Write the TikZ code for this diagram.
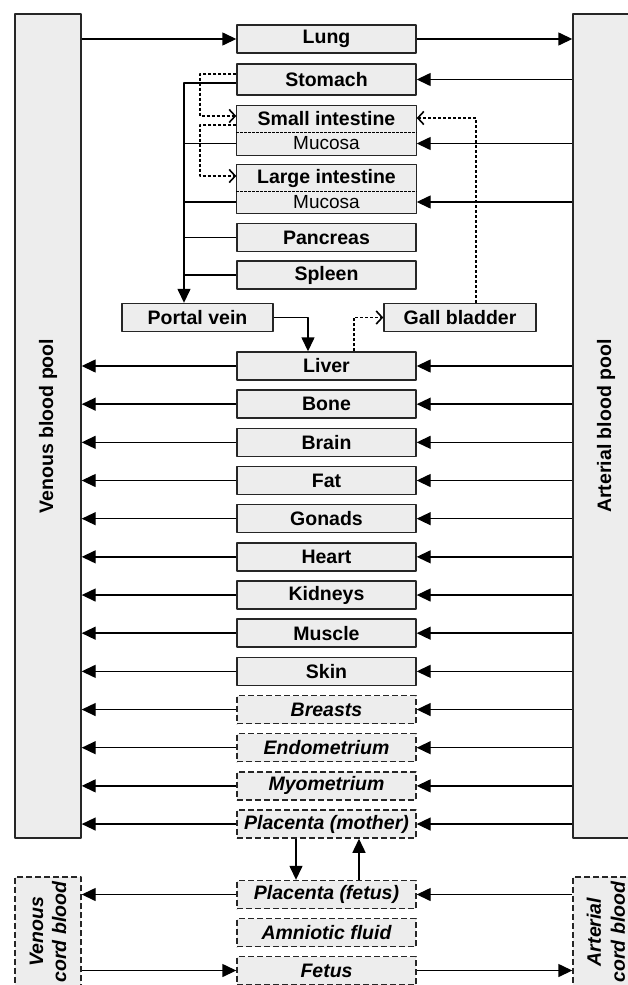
\documentclass[tikz,border=0pt]{standalone}
\usepackage{fontspec}
\setmainfont{Liberation Sans}
\usetikzlibrary{arrows.meta}
\begin{document}
\begin{tikzpicture}[x=1pt,y=-1pt, line join=round, font=\fontsize{19.5}{22}\selectfont\bfseries,
	organ/.style={draw=black!85, fill=black!7, line width=1.4pt, minimum width=179pt, minimum height=28pt, inner sep=0pt},
	dorgan/.style={organ, dash pattern=on 6pt off 3pt, font=\fontsize{19.5}{22}\selectfont\bfseries\itshape},
	pool/.style={draw=black!85, fill=black!7, line width=1.4pt, minimum width=66pt, inner sep=0pt},
	flow/.style={line width=1.4pt, -{Triangle[length=14pt,width=13pt]}},
	dflow/.style={line width=1.4pt, dash pattern=on 3pt off 2pt, -{Straight Barb[length=6pt,width=13pt,line width=1.6pt]}},
	link/.style={line width=1.4pt}]
	\def\cx{326.5} \def\ytop{366} \def\dy{38.17}
	\useasboundingbox (0,0) rectangle (628,985);

	% [Blood pools]
	\node[pool, minimum height=824pt] (venous) at (48,426) {};
	\node[rotate=90] (venouslbl) at (venous) {Venous blood pool};
	\node[pool, minimum height=824pt] (arterial) at (606,426) {};
	\node[rotate=90] (arteriallbl) at (arterial) {Arterial blood pool};
	\node[pool, dash pattern=on 6pt off 3pt, minimum height=110pt] (vcord) at (48,932) {};
	\node[rotate=90, align=center, font=\fontsize{19.5}{23}\selectfont\bfseries\itshape] (vcordlbl) at (vcord) {Venous\\cord blood};
	\node[pool, dash pattern=on 6pt off 3pt, minimum height=110pt] (acord) at (606,932) {};
	\node[rotate=90, align=center, font=\fontsize{19.5}{24}\selectfont\bfseries\itshape] (acordlbl) at (acord) {Arterial\\cord blood};

	% [Lung and portal organs]
	\node[organ] (lung) at (\cx,39) {Lung};
	\node[organ, minimum height=31pt] (stomach) at (\cx,79.5) {Stomach};
	\node[organ, draw=none, minimum height=26pt] (siU) at (\cx,119) {Small intestine};
	\node[organ, draw=none, minimum height=23pt, font=\fontsize{19}{21}\selectfont\mdseries] (siM) at (\cx,143.5) {Mucosa};
	\draw[line width=1.4pt, draw=black!85] (siU.north west) rectangle (siM.south east);
	\draw[line width=1pt, dash pattern=on 2.5pt off 1.5pt] (siU.south west) -- (siU.south east);
	\node[organ, draw=none, minimum height=26pt] (liU) at (\cx,178) {Large intestine};
	\node[organ, draw=none, minimum height=22pt, font=\fontsize{19}{21}\selectfont\mdseries] (liM) at (\cx,202) {Mucosa};
	\draw[line width=1.4pt, draw=black!85] (liU.north west) rectangle (liM.south east);
	\draw[line width=1pt, dash pattern=on 2.5pt off 1.5pt] (liU.south west) -- (liU.south east);
	\node[organ] (pancreas) at (\cx,237.5) {Pancreas};
	\node[organ] (spleen) at (\cx,275) {Spleen};
	\node[organ, minimum width=151pt] (portal) at (197.5,317.5) {Portal vein};
	\node[organ, minimum width=152pt] (gall) at (460,317.5) {Gall bladder};

	% [Other organs]
	\foreach \name/\txt [count=\i from 0] in {liver/Liver, bone/Bone, brain/Brain, fat/Fat, gonads/Gonads, heart/Heart, kidneys/Kidneys, muscle/Muscle, skin/Skin}
		\node[organ] (\name) at (\cx,\ytop+\dy*\i) {\txt};
	\foreach \name/\txt [count=\i from 9] in {breasts/Breasts, endometrium/Endometrium, myometrium/Myometrium, placM/Placenta (mother)}
		\node[dorgan] (\name) at (\cx,\ytop+\dy*\i) {\txt};
	\node[dorgan] (placF) at (\cx,894.5) {Placenta (fetus)};
	\node[dorgan] (amnio) at (\cx,932.5) {Amniotic fluid};
	\node[dorgan] (fetus) at (\cx,970.5) {Fetus};

	% [Flows to and from the pools]
	\draw[flow] (lung.west -| venous.east) -- (lung.west);
	\draw[flow] (lung.east) -- (lung.east -| arterial.west);
	\foreach \name in {stomach, siM, liM}
		\draw[flow] (\name.east -| arterial.west) -- (\name.east);
	\foreach \name in {liver, bone, brain, fat, gonads, heart, kidneys, muscle, skin, breasts, endometrium, myometrium, placM} {
		\draw[flow] (\name.east -| arterial.west) -- (\name.east);
		\draw[flow] (\name.west) -- (\name.west -| venous.east);
	}

	% [Portal circulation]
	\coordinate (bus) at (184,0);
	\coordinate (dbus) at (200,0);
	\coordinate (pl) at (308,0);
	\coordinate (lg) at (354,0);
	\coordinate (gs) at (476,0);
	\draw[flow] ([yshift=-3.5pt]stomach.west) -| (bus |- portal.north);
	\foreach \name in {siM, liM, pancreas, spleen}
		\draw[link] (\name.west) -- (\name.west -| bus);
	\draw[dflow] ([yshift=5.5pt]stomach.west) -| ([yshift=3pt]siU.west -| dbus) -- ([yshift=3pt]siU.west);
	\draw[dflow] ([yshift=-6pt]siU.west) -| ([yshift=2pt]liU.west -| dbus) -- ([yshift=2pt]liU.west);
	\draw[flow] (portal.east) -| (pl |- liver.north);
	\draw[dflow] (lg |- liver.north) |- (gall.west);
	\draw[dflow] (gs |- gall.north) |- ([yshift=1pt]siU.east);

	% [Placenta and fetus]
	\coordinate (pdown) at (296,0);
	\coordinate (pup) at (359,0);
	\draw[flow] (pdown |- placM.south) -- (pdown |- placF.north);
	\draw[flow] (pup |- placF.north) -- (pup |- placM.south);
	\draw[flow] (placF.west) -- (placF.west -| vcord.east);
	\draw[flow] (placF.east -| acord.west) -- (placF.east);
	\draw[flow] (fetus.west -| vcord.east) -- (fetus.west);
	\draw[flow] (fetus.east) -- (fetus.east -| acord.west);
\end{tikzpicture}
\end{document}
